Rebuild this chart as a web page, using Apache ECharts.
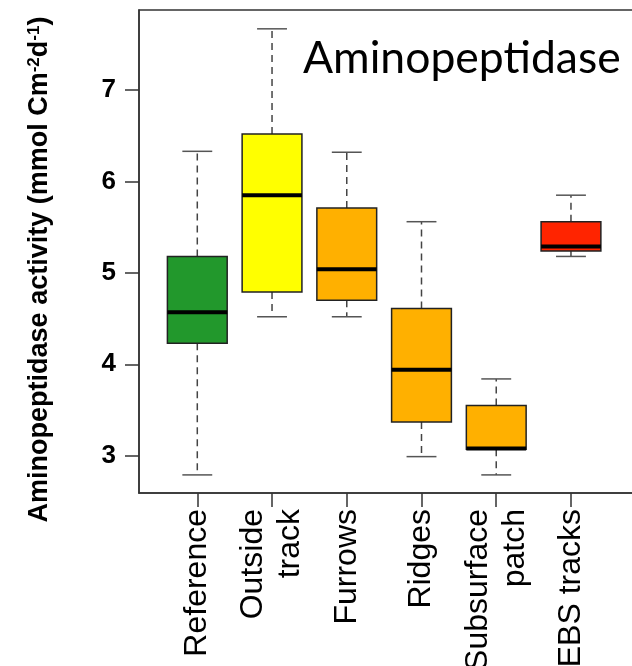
<!DOCTYPE html>
<html>
<head>
<meta charset="utf-8">
<script src="https://cdn.jsdelivr.net/npm/echarts@6/dist/echarts.min.js"></script>
<style>
  html, body { margin: 0; padding: 0; background: #fff; }
  #chart { width: 632px; height: 666px; }
</style>
</head>
<body>
<div id="chart"></div>
<script>
// Group names along the x axis
const categories = ['Reference', 'Outside\ntrack', 'Furrows', 'Ridges', 'Subsurface\npatch', 'EBS tracks'];
// Five-number summaries per group (whisker low, Q1, median, Q3, whisker high)
const lowerWhisker = [2.79, 4.52, 4.52, 2.99, 2.79, 5.18];
const q1Values     = [4.23, 4.79, 4.70, 3.37, 3.07, 5.24];
const medianValues = [4.57, 5.85, 5.04, 3.94, 3.08, 5.29];
const q3Values     = [5.18, 6.52, 5.71, 4.61, 3.55, 5.56];
const upperWhisker = [6.33, 7.67, 6.32, 5.56, 3.84, 5.85];
const boxColors    = ['#22982C', '#FFFF00', '#FFB000', '#FFB000', '#FFB000', '#FF2400'];
// y-axis tick labels
const yTicks = [3, 4, 5, 6, 7];

const positions = categories.map((_, i) => i + 1);
const boxData = positions.map((p, i) => [p, lowerWhisker[i], q1Values[i], medianValues[i], q3Values[i], upperWhisker[i]]);

const chart = echarts.init(document.getElementById('chart'), null, { renderer: 'canvas' });

const axisFont = "'Liberation Sans', Arial, sans-serif";

chart.setOption({
  animation: false,
  backgroundColor: '#ffffff',
  title: {
    text: 'Aminopeptidase',
    left: 303,
    top: 36,
    padding: 0,
    textStyle: { fontFamily: 'Lato, sans-serif', fontWeight: 'normal', fontSize: 44.5, color: '#000' }
  },
  grid: {
    left: 139, top: 10, width: 565, height: 483,
    containLabel: false,
    outerBoundsMode: 'none',
    show: true, borderColor: '#333', borderWidth: 1.5, backgroundColor: 'transparent'
  },
  xAxis: {
    type: 'value',
    min: 0.22, max: 7.78,
    splitLine: { show: false },
    axisLine: { show: true, lineStyle: { color: '#333', width: 1.5 } },
    axisTick: { show: true, length: 14, lineStyle: { color: '#333', width: 1.5 }, customValues: positions },
    axisLabel: {
      customValues: positions,
      rotate: 90,
      margin: 16,
      fontSize: 32,
      fontFamily: axisFont,
      color: '#000',
      lineHeight: 37,
      formatter: v => categories[Math.round(v) - 1] || ''
    }
  },
  yAxis: {
    type: 'value',
    min: 2.592, max: 7.876,
    splitLine: { show: false },
    axisLine: { show: true, lineStyle: { color: '#333', width: 1.5 } },
    axisTick: { show: true, length: 14, lineStyle: { color: '#333', width: 1.5 }, customValues: yTicks },
    axisLabel: {
      customValues: yTicks,
      margin: 23,
      fontSize: 26,
      fontWeight: 'bold',
      fontFamily: axisFont,
      color: '#000'
    },
    name: 'Aminopeptidase activity (mmol Cm{sup|-2}d{sup|-1})',
    nameLocation: 'middle',
    nameGap: 86,
    nameRotate: 90,
    nameTextStyle: {
      fontSize: 27,
      fontWeight: 'bold',
      fontFamily: axisFont,
      color: '#000',
      padding: [0, 36, 0, 0],
      rich: {
        sup: { fontSize: 17, fontWeight: 'bold', fontFamily: axisFont, color: '#000', verticalAlign: 'top', padding: [0, 0, 10, 0] }
      }
    }
  },
  series: [{
    type: 'custom',
    data: boxData,
    encode: { x: 0, y: [1, 2, 3, 4, 5] },
    renderItem: function (params, api) {
      const x = api.value(0);
      const lo = api.value(1), q1 = api.value(2), med = api.value(3), q3 = api.value(4), hi = api.value(5);
      const halfBox = api.size([0.8, 0])[0] / 2;
      const halfCap = api.size([0.4, 0])[0] / 2;
      const pLo = api.coord([x, lo]);
      const pQ1 = api.coord([x, q1]);
      const pMed = api.coord([x, med]);
      const pQ3 = api.coord([x, q3]);
      const pHi = api.coord([x, hi]);
      const cx = pMed[0];
      const whiskerStyle = { stroke: '#444', lineWidth: 1.5, lineDash: [7, 5] };
      const capStyle = { stroke: '#555', lineWidth: 1.5 };
      return {
        type: 'group',
        children: [
          { type: 'line', shape: { x1: cx, y1: pQ3[1], x2: cx, y2: pHi[1] }, style: whiskerStyle },
          { type: 'line', shape: { x1: cx, y1: pQ1[1], x2: cx, y2: pLo[1] }, style: whiskerStyle },
          { type: 'line', shape: { x1: cx - halfCap, y1: pHi[1], x2: cx + halfCap, y2: pHi[1] }, style: capStyle },
          { type: 'line', shape: { x1: cx - halfCap, y1: pLo[1], x2: cx + halfCap, y2: pLo[1] }, style: capStyle },
          {
            type: 'rect',
            shape: { x: cx - halfBox, y: pQ3[1], width: halfBox * 2, height: pQ1[1] - pQ3[1] },
            style: { fill: boxColors[params.dataIndex], stroke: '#222', lineWidth: 1.5 }
          },
          { type: 'line', shape: { x1: cx - halfBox, y1: pMed[1], x2: cx + halfBox, y2: pMed[1] }, style: { stroke: '#000', lineWidth: 4 } }
        ]
      };
    }
  }]
});
</script>
</body>
</html>
